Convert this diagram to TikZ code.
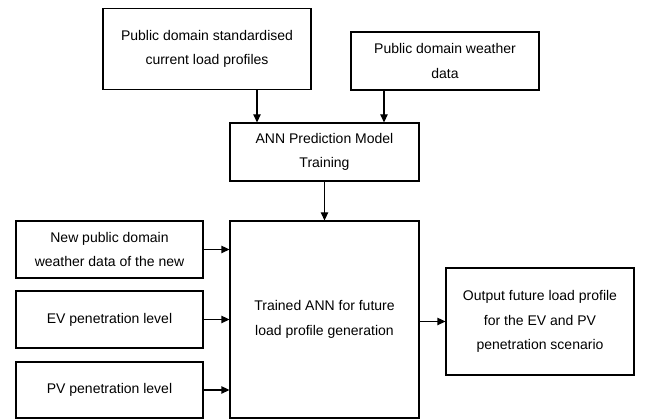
\documentclass[tikz,border=0pt]{standalone}
\usepackage{fontspec}
\setmainfont{Liberation Sans}
\usetikzlibrary{arrows.meta}
\begin{document}
\begin{tikzpicture}[x=1pt,y=-1pt,
  box/.style={draw=black, line width=1.3pt, inner sep=0pt, align=center,
    font=\fontsize{14}{24.5}\selectfont, text=black},
  arr/.style={draw=black, line width=1.3pt, -{Triangle[length=8pt,width=7.5pt]}}]
\useasboundingbox (0,0) rectangle (646,419);
\node[box, minimum width=208pt, minimum height=81pt] (b1) at (207,48.75) {Public domain standardised\\current load profiles};
\node[box, minimum width=188pt, minimum height=58pt] (b2) at (445,61) {Public domain weather\\data};
\node[box, minimum width=189pt, minimum height=58pt] (train) at (324.5,152) {ANN Prediction Model\\Training};
\node[box, minimum width=189pt, minimum height=197pt] (trained) at (324.5,319.5) {Trained ANN for future\\load profile generation};
\node[box, minimum width=187pt, minimum height=57pt] (A) at (109.5,249.5) {New public domain\\weather data of the new};
\node[box, minimum width=187pt, minimum height=57pt] (B) at (109.5,319.5) {EV penetration level};
\node[box, minimum width=187pt, minimum height=56pt] (C) at (109.5,390) {PV penetration level};
\node[box, minimum width=188pt, minimum height=107pt] (out) at (540,321.5) {Output future load profile\\for the EV and PV\\penetration scenario};
\coordinate (x1) at (257,0);
\coordinate (x2) at (384,0);
\draw[arr] (b1.south -| x1) -- (train.north -| x1);
\draw[arr] (b2.south -| x2) -- (train.north -| x2);
\draw[arr] (train.south) -- (trained.north);
\draw[arr] (A.east) -- (A.east -| trained.west);
\draw[arr] (B.east) -- (B.east -| trained.west);
\draw[arr] (C.east) -- (C.east -| trained.west);
\draw[arr] (trained.east |- out.west) -- (out.west);
\end{tikzpicture}
\end{document}
